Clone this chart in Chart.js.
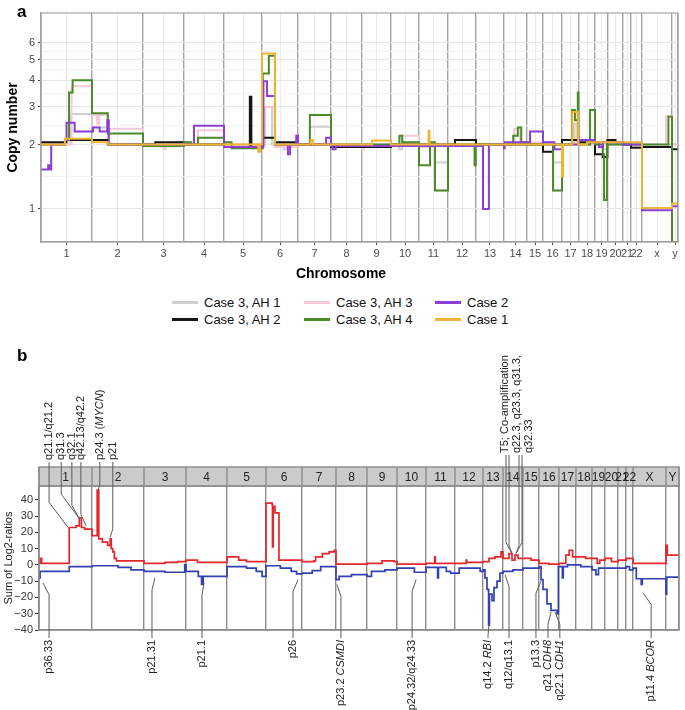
<!DOCTYPE html>
<html>
<head>
<meta charset="utf-8">
<script src="https://cdn.jsdelivr.net/npm/chart.js@4.4.1/dist/chart.umd.min.js"></script>
<style>
  body { margin: 0; background: #fff; font-family: "Liberation Sans", Arial, sans-serif; }
  #wrap { position: relative; width: 685px; height: 710px; overflow: hidden; }
  #chartA { position: absolute; left: 0; top: 0; }
  #chartB { position: absolute; left: 0; top: 340px; }
  .tag { position: absolute; font-weight: bold; font-size: 17px; line-height: 20px; }
  #xtitle { position: absolute; left: 0; top: 265px; width: 682px; text-align: center; font-weight: bold; font-size: 14px; line-height: 16px; }
  #legend { position: absolute; left: 172px; top: 294px; display: grid; grid-template-columns: 132px 131px 110px; font-size: 13px; line-height: 17px; color: #111; }
  .item { display: flex; align-items: center; white-space: nowrap; }
  .sw { width: 26px; height: 2.5px; margin-right: 6px; }
</style>
</head>
<body>
<div id="wrap">
  <canvas id="chartA" width="685" height="288"></canvas>
  <div class="tag" style="left:17px;top:2px">a</div>
  <div id="xtitle">Chromosome</div>
  <div id="legend"></div>
  <div class="tag" style="left:17px;top:346px">b</div>
  <canvas id="chartB" width="685" height="370"></canvas>
</div>
<script>
// chromosome order and their relative drawn lengths in each panel
const chromTicksA = ['1','2','3','4','5','6','7','8','9','10','11','12','13','14','15','16','17','18','19','20','21','22','x','y'];
const chromTicksB = ['1','2','3','4','5','6','7','8','9','10','11','12','13','14','15','16','17','18','19','20','21','22','X','Y'];
const chromLenA = [51,51,41,40,38,36,33,31,29,28,29,28,28,23,16,19,17,16,13,15,8,11,30,6];
const chromLenB = [53,52,42,41,39,36,34,31,30,29,29,28,20,20,16,20,17,16,13,13,8,7,33,13];

// panel a: copy number segments, [chromosome + fraction, copy number from there on]
const copyTicks = [1, 2, 3, 4, 5, 6];
const caseAH1 = [[1.0,2.0],[1.57,2.78],[2.0,2.4],[2.31,2.0],[6.08,3.0],[6.28,2.0],[6.6,1.9],[6.7,2.0],[7.36,2.42],[8.0,2.0],[10.3,1.9],[10.4,2.0],[11.55,1.65],[12.0,2.0],[16.53,1.65],[17.0,2.0],[17.7,2.5],[17.85,2.0],[19.6,1.9],[20.0,2.0]];
const caseAH3 = [[1.0,2.0],[1.6,3.75],[2.0,2.75],[2.1,2.5],[2.14,2.75],[2.31,2.37],[3.0,2.0],[3.5,1.9],[3.55,2.0],[4.35,2.33],[5.0,2.0],[6.05,3.0],[6.36,1.95],[7.0,2.0],[9.0,1.9],[9.06,2.0],[10.4,2.2],[11.0,1.95],[11.55,1.22],[12.0,2.0],[14.45,2.37],[14.7,2.05],[16.53,1.22],[17.0,2.0],[17.85,2.2],[18.0,2.0],[22.0,1.95],[23.8,2.72],[24.0,2.0]];
const caseAH2 = [[1.0,2.05],[1.5,2.1],[2.31,2.0],[3.3,2.05],[4.0,2.0],[5.0,1.95],[5.68,3.35],[5.72,1.95],[6.0,2.15],[6.36,2.05],[7.0,2.0],[8.0,1.95],[10.0,2.0],[12.25,2.1],[13.0,2.0],[16.0,1.85],[16.53,2.0],[17.0,2.1],[18.0,2.05],[19.0,1.8],[19.6,1.75],[19.95,2.1],[20.5,2.05],[21.0,2.0],[22.0,1.93],[23.0,1.95],[24.0,1.9]];
const caseAH4 = [[1.0,2.0],[1.47,2.1],[1.55,3.5],[1.62,4.0],[2.0,2.8],[2.31,2.25],[3.0,1.97],[4.0,2.05],[4.18,2.0],[4.35,2.15],[5.0,2.05],[5.2,1.92],[6.02,4.3],[6.19,5.2],[6.36,2.0],[7.36,2.75],[8.0,2.0],[10.3,2.2],[10.4,2.05],[11.0,1.6],[11.38,2.05],[11.55,1.22],[12.0,2.0],[12.95,1.6],[12.99,2.0],[14.4,2.2],[14.6,2.4],[14.75,2.05],[15.0,2.0],[16.53,1.22],[17.0,2.0],[17.59,2.9],[17.76,2.6],[17.93,3.5],[17.97,2.0],[18.69,2.9],[19.0,2.0],[19.6,1.8],[19.69,1.1],[19.92,2.0],[23.88,2.7],[24.0,0.7]];
const case2 = [[1.0,1.53],[1.14,1.6],[1.17,1.53],[1.2,2.0],[1.47,2.1],[1.5,2.53],[1.66,2.3],[2.02,2.4],[2.15,2.3],[2.3,2.6],[2.33,2.0],[4.25,2.45],[5.0,1.95],[6.04,3.96],[6.14,3.37],[6.36,2.0],[6.72,1.8],[6.78,2.0],[6.95,2.2],[7.0,2.0],[7.85,2.15],[8.0,1.97],[8.05,1.9],[8.15,1.97],[13.25,1.0],[13.46,2.0],[14.0,1.92],[14.03,2.05],[15.19,2.3],[16.0,2.05],[16.6,1.9],[17.0,2.0],[18.0,2.1],[19.0,2.05],[19.3,1.95],[19.6,2.05],[21.0,2.0],[23.0,0.985],[24.0,1.03]];
const case1 = [[1.0,2.0],[1.47,2.13],[2.0,2.05],[2.31,2.0],[5.9,1.85],[5.95,2.0],[6.0,5.33],[6.36,2.0],[7.38,2.1],[7.45,2.0],[9.35,2.09],[10.0,2.0],[11.33,2.32],[11.36,2.0],[17.0,1.42],[17.06,2.0],[17.6,2.84],[17.95,2.0],[18.5,2.05],[23.0,1.01],[24.0,1.06]];

const seriesNames = ['Case 3, AH 1', 'Case 3, AH 3', 'Case 2', 'Case 3, AH 2', 'Case 3, AH 4', 'Case 1'];
const seriesData = [caseAH1, caseAH3, case2, caseAH2, caseAH4, case1];
const seriesColors = ['#cfcfcf', '#f6c9d8', '#8c3fd6', '#161616', '#4b8a2a', '#f0b430'];
const seriesLayer = [6, 5, 2, 4, 3, 1];

// panel b: summed log2 ratios, gains (red) and losses (blue)
const sumTicks = [-40, -30, -20, -10, 0, 10, 20, 30, 40];
const gainSum = [[1.0,1],[1.02,4],[1.05,1],[1.57,23],[1.7,24],[1.76,29],[1.8,23],[1.86,22],[2.0,18],[2.1,46],[2.13,16],[2.2,14],[2.3,12],[2.35,16],[2.37,10],[2.4,8],[2.43,4],[2.47,2.5],[3.0,1],[3.5,1.5],[3.8,2],[4.0,3],[4.28,1.5],[5.0,5],[5.3,3],[5.5,2],[6.0,38],[6.17,37],[6.18,11],[6.2,36],[6.25,32],[6.36,3],[7.0,2],[7.35,2.5],[7.4,5],[7.6,7],[7.8,8],[7.95,9],[8.0,0.5],[9.0,1],[9.5,2.5],[9.9,2],[10.0,0.5],[11.0,1],[11.3,5],[11.32,1],[12.0,1],[12.4,3],[12.42,1.5],[13.0,2],[13.3,4],[13.6,5],[13.9,8],[14.0,4],[14.3,7],[14.45,3],[14.6,6],[14.75,4],[15.0,4],[15.5,3],[16.0,1],[16.5,0.5],[17.0,1],[17.4,6],[17.6,9],[17.8,5],[18.0,5],[18.6,4],[19.0,4],[19.4,1],[19.6,3],[20.0,4],[20.5,2],[21.0,3],[22.0,4],[23.0,1],[24.0,12],[24.1,6]];
const lossSum = [[1.0,-8],[1.02,-4],[1.57,-1],[2.0,-0.5],[2.5,-1.5],[2.75,-3],[3.0,-4],[3.5,-4.5],[3.97,0],[4.0,-4],[4.3,-7],[4.38,-12],[4.42,-7],[5.0,-1],[5.5,-2],[5.75,-4],[5.9,-7],[6.0,-0.5],[6.4,-2],[6.7,-4],[6.85,-5.5],[7.0,-5],[7.3,-3.5],[7.55,-1],[8.0,-9],[8.1,-7],[8.5,-6],[9.0,-7],[9.15,-4],[9.6,-3],[10.0,-2],[10.6,-4.5],[11.0,-1.5],[11.4,-8],[11.43,-1.5],[11.7,-4],[11.85,-5],[12.0,-5],[12.15,-2],[12.9,-4],[13.0,-3],[13.1,-8],[13.2,-15],[13.28,-37],[13.32,-18],[13.45,-22],[13.55,-14],[13.7,-10],[13.85,-5],[14.0,-4],[14.5,-3],[15.0,-2],[16.0,-1],[16.1,-9],[16.2,-15],[16.4,-24],[16.6,-28],[16.9,-30],[16.97,-1],[17.2,-8],[17.25,-1],[17.5,0],[18.0,0],[18.3,-1],[19.0,-3],[19.3,-6],[19.5,-2],[20.0,-2],[21.0,-2],[22.0,-1],[22.5,-3],[23.0,-2],[23.1,-8.5],[23.25,-12],[23.28,-8.5],[24.0,-18],[24.05,-7.5]];

// cytoband notes: label position, pointed position and value (*...* = italic)
const notesTop = [
  { text: 'q21.1/q21.2', at: 1.19, target: 1.55, value: 23 },
  { text: 'q31.3', at: 1.42, target: 1.75, value: 29 },
  { text: 'q32.1', at: 1.62, target: 1.77, value: 28 },
  { text: 'q42.13/q42.2', at: 1.79, target: 1.89, value: 24 },
  { text: 'p24.3 (*MYCN*)', at: 2.15, target: 2.115, value: 45 },
  { text: 'p21', at: 2.4, target: 2.35, value: 17 }
];
const t5Lines = ['T5; Co-amplification', 'q22.3, q23.3, q31.3,', 'q32.33'];
const t5At = 14.1;
const t5Leaders = [[14.15, 14.45], [14.3, 14.45], [14.8, 14.65], [14.95, 14.65]];
const t5Value = 7;
const notesBottom = [
  { text: 'p36.33', at: 1.19, target: 1.075, value: -11 },
  { text: 'p21.31', at: 3.19, target: 3.26, value: -8 },
  { text: 'p21.1', at: 4.39, target: 4.44, value: -11 },
  { text: 'p26', at: 6.75, target: 6.89, value: -9 },
  { text: 'p23.2 *CSMDI*', at: 8.16, target: 8.03, value: -12 },
  { text: 'p24.32/q24.33', at: 10.52, target: 10.66, value: -9 },
  { text: 'q14.2 *RBI*', at: 13.25, target: 13.3, value: -36 },
  { text: 'q12/q13.1', at: 14.3, target: 14.1, value: -6 },
  { text: 'p13.3', at: 15.81, target: 16.1, value: -10 },
  { text: 'q21 *CDH8*', at: 16.45, target: 16.6, value: -29 },
  { text: 'q22.1 *CDH1*', at: 17.05, target: 16.8, value: -29 },
  { text: 'p11.4 *BCOR*', at: 23.55, target: 23.3, value: -17 }
];

Chart.defaults.font.family = '"Liberation Sans", Arial, sans-serif';
Chart.defaults.animation = false;

const cumStarts = (lens) => {
  let s = [0];
  for (let i = 0; i < lens.length; i++) s.push(s[i] + lens[i]);
  return s;
}
const toX = (pos, lens) => {
  let starts = cumStarts(lens);
  let c = Math.floor(pos);
  if (c > lens.length) return starts[lens.length];
  return starts[c - 1] + (pos - c) * lens[c - 1];
}
const toPoints = (segs, lens) => {
  let pts = segs.map(s => ({ x: toX(s[0], lens), y: s[1] }));
  pts.push({ x: cumStarts(lens)[lens.length], y: segs[segs.length - 1][1] });
  return pts;
}
const centersOf = (lens) => {
  let s = cumStarts(lens);
  return lens.map((l, i) => s[i] + l / 2);
}

// legend
const legend = document.getElementById('legend');
seriesNames.forEach((name, i) => {
  let item = document.createElement('div');
  item.className = 'item';
  item.innerHTML = '<span class="sw" style="background:' + seriesColors[i] + '"></span>' + name;
  legend.appendChild(item);
});

// ---------- panel a ----------
const totalA = cumStarts(chromLenA)[chromLenA.length];
const centersA = centersOf(chromLenA);
const boundsA = cumStarts(chromLenA);
let minorCopy = [];
for (let i = 0; i < copyTicks.length - 1; i++) minorCopy.push(Math.sqrt(copyTicks[i] * copyTicks[i + 1]));

const frame = (color) => ({
  id: 'frame',
  afterDraw(chart) {
    let a = chart.chartArea;
    let ctx = chart.ctx;
    ctx.save();
    ctx.strokeStyle = color;
    ctx.lineWidth = 1.2;
    ctx.strokeRect(a.left, a.top, a.right - a.left, a.bottom - a.top);
    ctx.restore();
  }
});

new Chart(document.getElementById('chartA'), {
  type: 'line',
  data: {
    datasets: seriesData.map((d, i) => ({
      label: seriesNames[i],
      data: toPoints(d, chromLenA),
      borderColor: seriesColors[i],
      borderWidth: 2,
      stepped: true,
      pointRadius: 0,
      fill: false,
      order: seriesLayer[i]
    }))
  },
  options: {
    responsive: false,
    layout: { padding: { top: 13, right: 7, left: 0, bottom: 0 } },
    plugins: { legend: { display: false }, tooltip: { enabled: false } },
    scales: {
      x: {
        type: 'linear', min: 0, max: totalA,
        afterFit: (s) => { s.height = 46; },
        afterBuildTicks: (s) => {
          s.ticks = centersA.map(v => ({ value: v })).concat(boundsA.map(v => ({ value: v })));
        },
        ticks: {
          autoSkip: false, maxRotation: 0, padding: 2,
          color: '#4d4d4d', font: { size: 11 },
          callback: (v, i) => i < chromTicksA.length ? chromTicksA[i] : ''
        },
        grid: {
          color: (c) => c.index < chromTicksA.length ? '#ebebeb' : '#a3a3a3',
          lineWidth: (c) => c.index < chromTicksA.length ? 1 : 1.4,
          tickColor: (c) => c.index < chromTicksA.length ? '#444' : 'rgba(0,0,0,0)',
          tickLength: 3
        },
        border: { color: '#a3a3a3', width: 1.2 }
      },
      y: {
        type: 'logarithmic', min: 0.72, max: 8.25,
        afterFit: (s) => { s.width = 41; },
        afterBuildTicks: (s) => {
          s.ticks = copyTicks.concat(minorCopy).map(v => ({ value: v }));
        },
        ticks: {
          autoSkip: false, padding: 3,
          color: '#4d4d4d', font: { size: 11 },
          callback: (v) => copyTicks.includes(v) ? String(v) : ''
        },
        grid: {
          color: (c) => copyTicks.includes(c.tick.value) ? '#e6e6e6' : '#f3f3f3',
          tickColor: (c) => copyTicks.includes(c.tick.value) ? '#444' : 'rgba(0,0,0,0)',
          tickLength: 3
        },
        border: { color: '#a3a3a3', width: 1.2 },
        title: {
          display: true, text: 'Copy number', color: '#000',
          font: { size: 14, weight: 'bold' }, padding: { top: 5, bottom: 0 }
        }
      }
    }
  },
  plugins: [frame('#a3a3a3')]
});

// ---------- panel b ----------
const totalB = cumStarts(chromLenB)[chromLenB.length];
const centersB = centersOf(chromLenB);
const boundsB = cumStarts(chromLenB);
const headerH = 19;
const noteFont = '11px "Liberation Sans", Arial, sans-serif';

const richWidth = (ctx, text) => {
  let w = 0;
  text.split('*').forEach((part, i) => {
    ctx.font = (i % 2 ? 'italic ' : '') + noteFont;
    w += ctx.measureText(part).width;
  });
  return w;
}
const drawRich = (ctx, text, x0) => {
  let x = x0;
  text.split('*').forEach((part, i) => {
    ctx.font = (i % 2 ? 'italic ' : '') + noteFont;
    ctx.fillText(part, x, 0);
    x += ctx.measureText(part).width;
  });
}
const leader = (ctx, lx, ly, bendY, tx, ty) => {
  ctx.beginPath();
  ctx.moveTo(lx, ly);
  ctx.lineTo(lx, bendY);
  ctx.lineTo(tx, ty);
  ctx.stroke();
}

const bandPlugin = {
  id: 'band',
  afterDraw(chart) {
    let ctx = chart.ctx, a = chart.chartArea, x = chart.scales.x, y = chart.scales.y;
    let top = a.top - headerH;
    ctx.save();
    // chromosome header band
    ctx.fillStyle = '#cbcbcb';
    ctx.fillRect(a.left, top, a.right - a.left, headerH);
    ctx.strokeStyle = '#8c8c8c';
    ctx.lineWidth = 1.4;
    ctx.strokeRect(a.left, top, a.right - a.left, headerH);
    boundsB.forEach(b => {
      let px = x.getPixelForValue(b);
      ctx.beginPath(); ctx.moveTo(px, top); ctx.lineTo(px, a.top); ctx.stroke();
    });
    ctx.fillStyle = '#222';
    ctx.font = '12px "Liberation Sans", Arial, sans-serif';
    ctx.textAlign = 'center';
    ctx.textBaseline = 'middle';
    centersB.forEach((c, i) => ctx.fillText(chromTicksB[i], x.getPixelForValue(c), top + headerH / 2 + 1));
    ctx.strokeRect(a.left, a.top, a.right - a.left, a.bottom - a.top);

    // notes
    ctx.strokeStyle = '#5a5a5a';
    ctx.lineWidth = 1;
    ctx.fillStyle = '#222';
    ctx.textAlign = 'left';
    let px = (pos) => x.getPixelForValue(toX(pos, chromLenB));
    let labelBottom = top - 5;
    notesTop.forEach(n => {
      let lx = px(n.at), tx = px(n.target), ty = y.getPixelForValue(n.value);
      leader(ctx, lx, labelBottom, ty - (Math.abs(tx - lx) + 6), tx, ty);
      ctx.save();
      ctx.translate(lx, labelBottom);
      ctx.rotate(-Math.PI / 2);
      drawRich(ctx, n.text, 2);
      ctx.restore();
    });
    let t5Bottom = top - 12;
    let t5y = y.getPixelForValue(t5Value);
    t5Leaders.forEach(l => {
      let lx = px(l[0]), tx = px(l[1]);
      leader(ctx, lx, t5Bottom, t5y - (Math.abs(tx - lx) + 5), tx, t5y);
    });
    t5Lines.forEach((line, i) => {
      ctx.save();
      ctx.translate(px(t5At) + i * 12, t5Bottom);
      ctx.rotate(-Math.PI / 2);
      drawRich(ctx, line, 2);
      ctx.restore();
    });
    let labelTop = a.bottom + 8;
    notesBottom.forEach(n => {
      let lx = px(n.at), tx = px(n.target), ty = y.getPixelForValue(n.value);
      leader(ctx, lx, labelTop, Math.min(ty + 12, labelTop - 2), tx, ty);
      let w = richWidth(ctx, n.text);
      ctx.save();
      ctx.translate(lx, labelTop);
      ctx.rotate(-Math.PI / 2);
      drawRich(ctx, n.text, -(w + 2));
      ctx.restore();
    });
    ctx.restore();
  }
};

new Chart(document.getElementById('chartB'), {
  type: 'line',
  data: {
    datasets: [
      { label: 'gain', data: toPoints(gainSum, chromLenB), borderColor: '#e5262b', borderWidth: 1.7, stepped: true, pointRadius: 0, fill: false },
      { label: 'loss', data: toPoints(lossSum, chromLenB), borderColor: '#3341b0', borderWidth: 1.7, stepped: true, pointRadius: 0, fill: false }
    ]
  },
  options: {
    responsive: false,
    layout: { padding: { top: 146, right: 6, left: 0, bottom: 0 } },
    plugins: { legend: { display: false }, tooltip: { enabled: false } },
    scales: {
      x: {
        type: 'linear', min: 0, max: totalB,
        afterFit: (s) => { s.height = 80; },
        afterBuildTicks: (s) => { s.ticks = boundsB.map(v => ({ value: v })); },
        ticks: { display: false },
        grid: { color: '#8c8c8c', lineWidth: 1.4, drawTicks: false },
        border: { color: '#8c8c8c', width: 1.4 }
      },
      y: {
        type: 'linear', min: -40, max: 48.5,
        afterFit: (s) => { s.width = 39; },
        afterBuildTicks: (s) => { s.ticks = sumTicks.map(v => ({ value: v })); },
        ticks: {
          padding: 2, color: '#333', font: { size: 11 },
          callback: (v) => v < 0 ? '\u2212' + Math.abs(v) : String(v)
        },
        grid: { drawOnChartArea: false, tickColor: '#333', tickLength: 4 },
        border: { color: '#8c8c8c', width: 1.4 },
        title: {
          display: true, text: 'Sum of Log2-ratios', color: '#222',
          font: { size: 11 }, padding: { top: 2, bottom: 0 }
        }
      }
    }
  },
  plugins: [bandPlugin]
});
</script>
</body>
</html>
